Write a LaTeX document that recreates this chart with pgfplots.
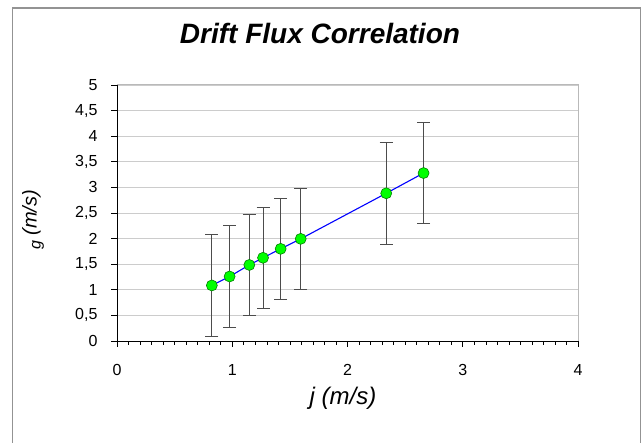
\documentclass[border=0pt]{standalone}
\usepackage{fontspec}
\setmainfont{Liberation Sans}
\usepackage{pgfplots}
\pgfplotsset{compat=1.18}

\begin{document}
\begin{tikzpicture}[x=1bp,y=1bp]
\path (0,0) rectangle (642,443);
% chart frame
\draw[gray!85, line width=1.3bp] (12.7,0) -- (12.7,435) -- (640.5,435) -- (640.5,0);
\begin{axis}[
  at={(117bp,102bp)}, anchor=south west,
  width=461bp, height=256bp, scale only axis,
  xmin=0, xmax=4, ymin=0, ymax=5,
  xtick={0,1,2,3,4}, minor x tick num=9,
  ytick={0,0.5,1,1.5,2,2.5,3,3.5,4,4.5,5},
  axis lines=left, axis line style={-, black, line width=0.8bp},
  ymajorgrids, grid style={gray!40, line width=0.9bp},
  tick align=outside, major tick length=6bp, minor tick length=4bp,
  tick style={black, line width=0.6bp},
  /pgf/number format/use comma,
  /pgf/number format/assume math mode=true,
  tick label style={font=\fontsize{16bp}{18bp}\selectfont},
  xticklabel style={anchor=base, yshift=-29bp},
  yticklabel style={anchor=east, xshift=-10bp},
  clip=false,
]
\draw[gray!55, line width=1bp] (rel axis cs:0,1) -- (rel axis cs:1,1) -- (rel axis cs:1,0);
\addplot+[blue, line width=1.1bp, mark=*, mark size=5.5bp,
  mark options={fill=green, draw=green!50!black, line width=0.6bp},
  error bars/.cd, y dir=both, y explicit,
  error bar style={black!70, line width=0.9bp},
  error mark options={black!70, line width=0.9bp, mark size=6.5bp, rotate=90}]
  coordinates {
  (0.823,1.085) +- (0,0.99)
  (0.977,1.26) +- (0,0.99)
  (1.148,1.485) +- (0,0.99)
  (1.267,1.625) +- (0,0.99)
  (1.420,1.80) +- (0,0.99)
  (1.594,1.995) +- (0,0.99)
  (2.336,2.885) +- (0,0.99)
  (2.660,3.28) +- (0,0.99)
  };
\end{axis}
\node[anchor=base, font=\fontsize{28bp}{30bp}\selectfont\bfseries\itshape] at (320,399.5) {Drift Flux Correlation};
\node[anchor=base, font=\fontsize{24bp}{26bp}\selectfont\itshape] at (343,38) {j (m/s)};
\node[rotate=90, anchor=center, font=\fontsize{20bp}{22bp}\selectfont\itshape] at (33,223) {\raisebox{-4bp}{\fontsize{16bp}{16bp}\selectfont g} (m/s)};
\end{tikzpicture}
\end{document}
